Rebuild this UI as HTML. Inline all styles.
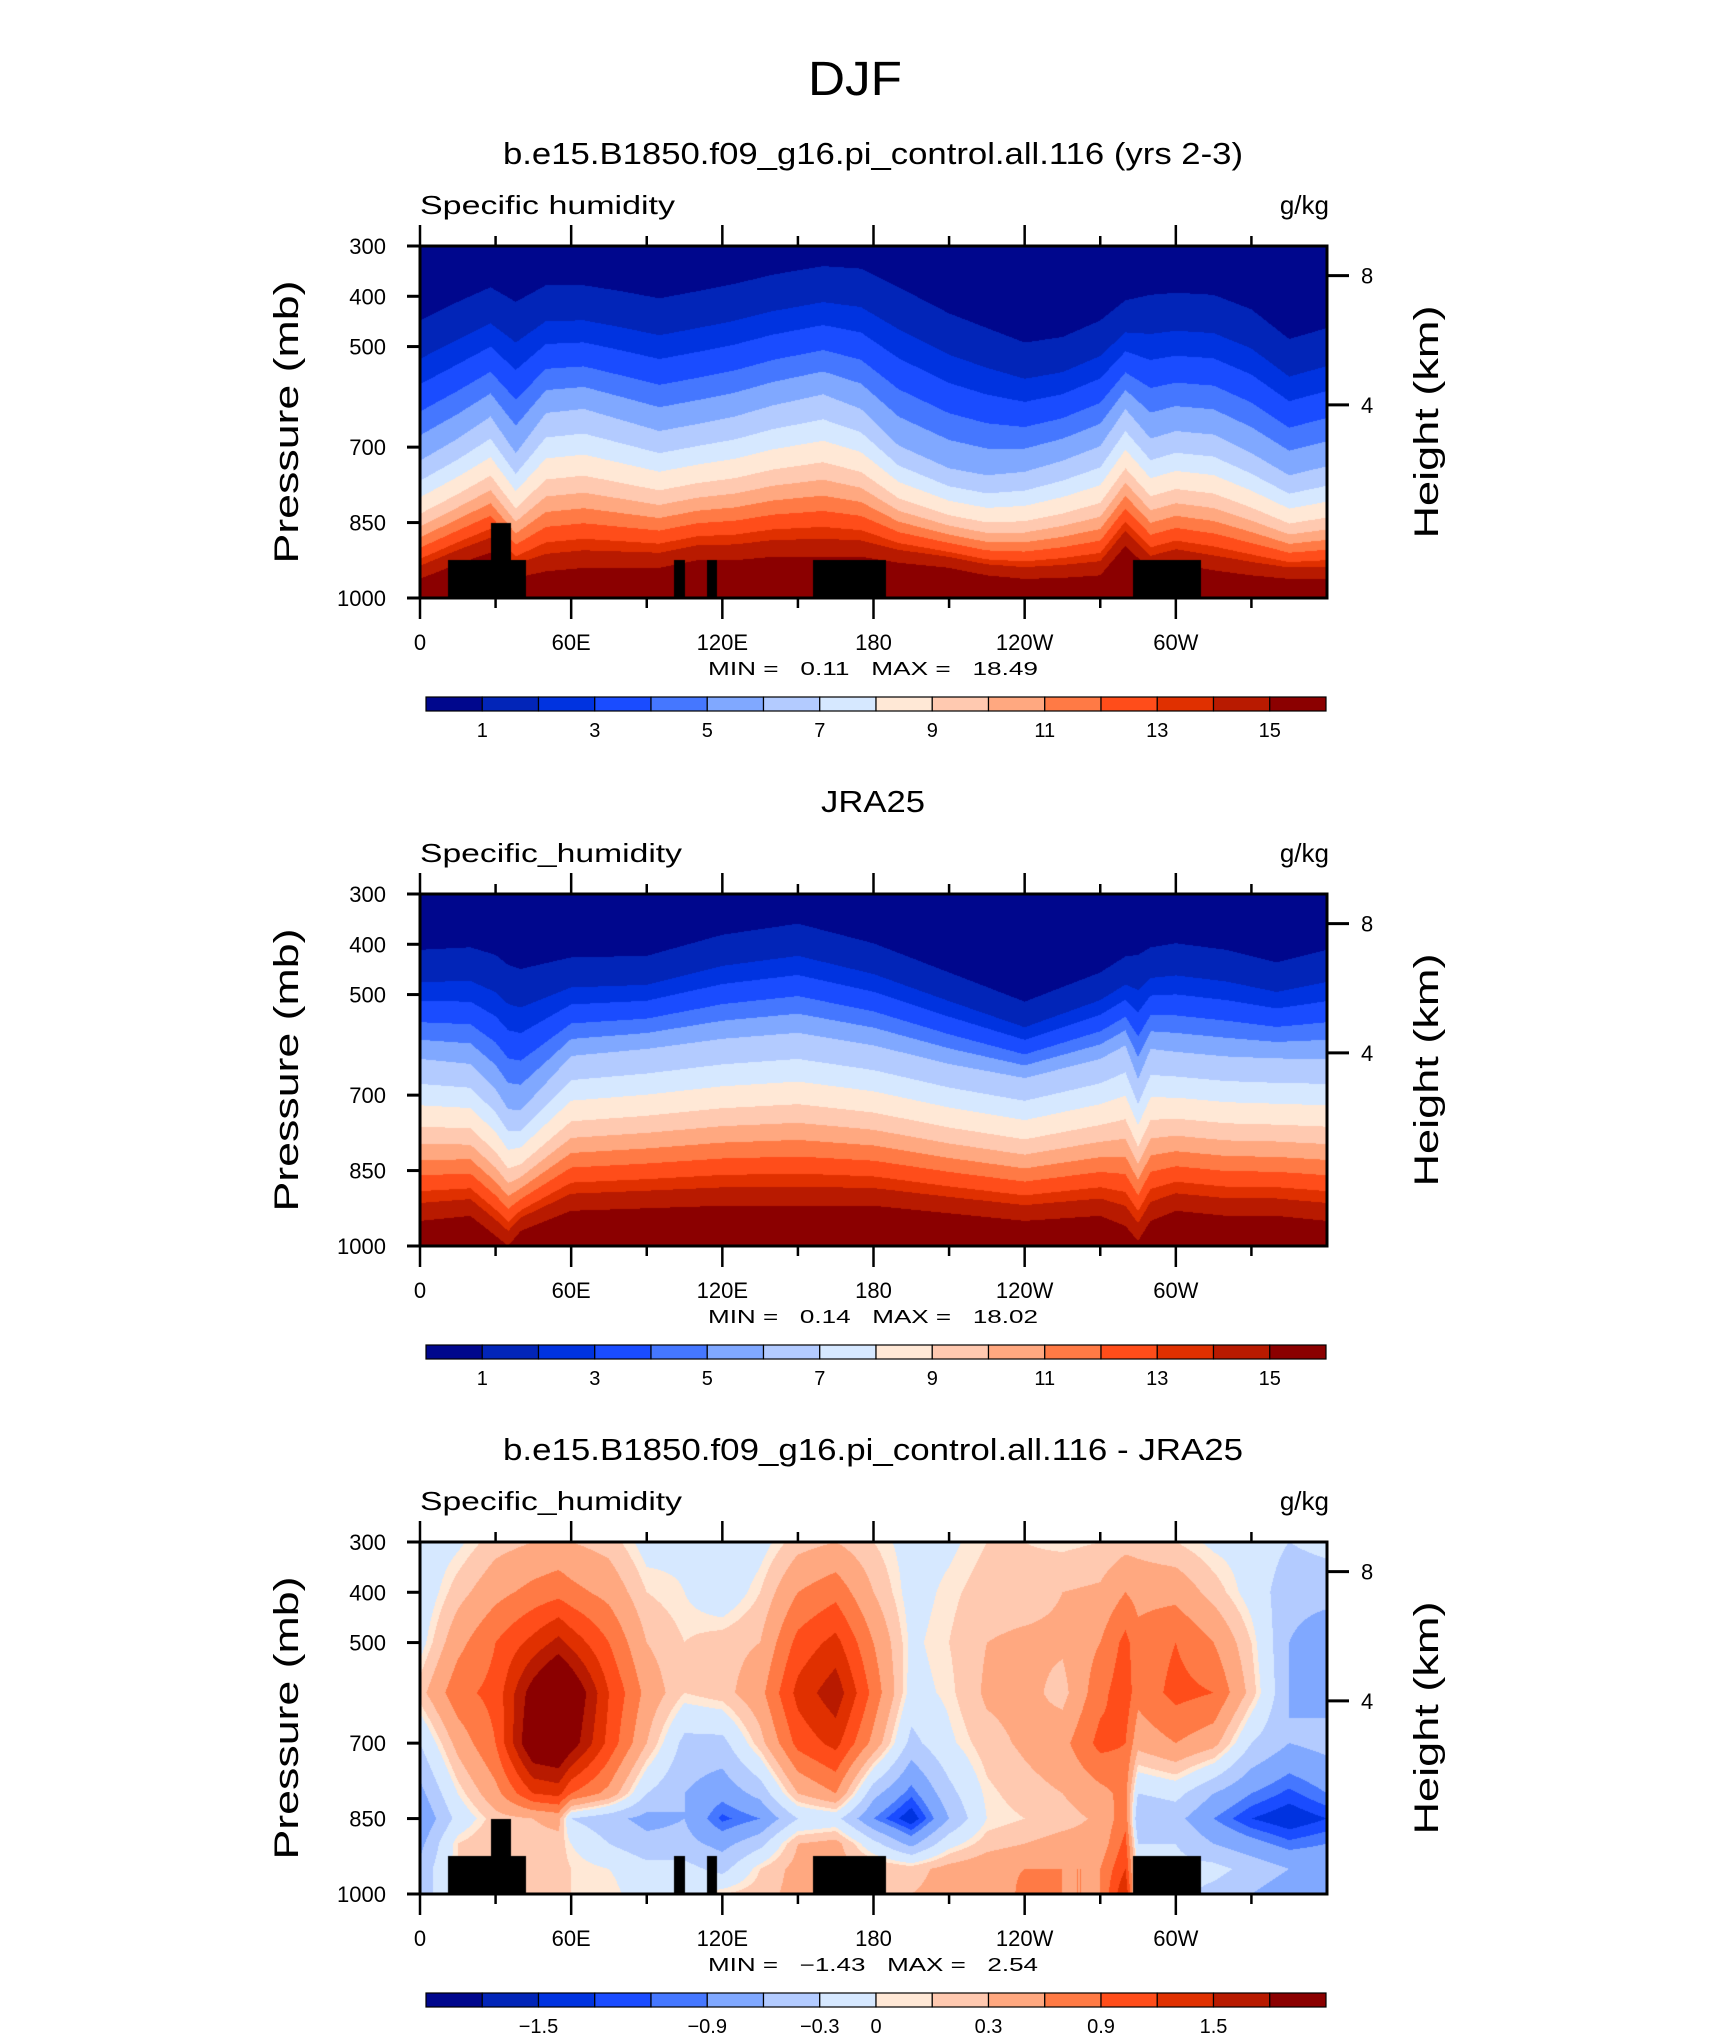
<!DOCTYPE html>
<html><head><meta charset="utf-8">
<style>
html,body{margin:0;padding:0;background:#fff;}
#root{position:relative;width:1710px;height:2038px;overflow:hidden;background:#fff;}
canvas{position:absolute;}
svg{position:absolute;left:0;top:0;}
text{font-family:"Liberation Sans",sans-serif;fill:#000;}
</style></head>
<body>
<div id="root">
<canvas id="c1" width="907" height="352" style="left:420px;top:246px"></canvas>
<canvas id="c2" width="907" height="352" style="left:420px;top:894px"></canvas>
<canvas id="c3" width="907" height="352" style="left:420px;top:1542px"></canvas>
<svg id="ov" width="1710" height="2038">
<text x="855" y="95" font-size="48" text-anchor="middle" textLength="94" lengthAdjust="spacingAndGlyphs">DJF</text>
</svg>
</div>
<script>
// ---------- data ----------
const colors = ["#00078d","#0225b8","#0033e0","#1a4cff","#4577ff","#80a8ff","#b3cbff","#d6e8ff","#ffe8d6","#ffc9b0","#ffa880","#ff7a45","#ff4d1a","#e03000","#b81a00","#8b0000"];
const qLevels = [1,2,3,4,5,6,7,8,9,10,11,12,13,14,15];
const qLabels = ["1","3","5","7","9","11","13","15"];
const dLevels = [-1.8,-1.5,-1.2,-1.05,-0.9,-0.6,-0.3,0,0.1,0.3,0.6,0.9,1.2,1.5,1.8];
const dLabels = ["\u22121.5","\u22120.9","\u22120.3","0","0.3","0.9","1.5"];
const presTicks = [300,400,500,700,850,1000];
const heightTicks = [8,4];
const heightTickPres = [359,616];
const lonTicks = [0,60,120,180,240,300];
const lonTickLabels = ["0","60E","120E","180","120W","60W"];
// base pressure (mb) of each q contour level (1..15) at reference column
const baseBoundary = [386,463,514,569,617,668,712,749,786,815,841,866,892,910,940];
// model shifts (mb) by longitude
const m1Lons = [0,15,28,38,50,65,80,95,110,125,140,160,175,190,210,225,240,255,270,280,290,300,315,330,345,360];
const m1Top  = [62,25,-4,25,-8,-8,4,18,4,-11,-29,-46,-41,-4,48,77,106,95,62,22,11,7,11,40,99,77];
const m1Mid  = [59,15,-29,44,-36,-44,-22,0,-14,-29,-51,-73,-44,29,74,88,81,59,30,-44,15,0,7,44,88,70];
const m1Bot  = [22,-8,-30,20,7,0,0,0,-15,-15,-22,-22,-22,-10,0,15,22,20,15,-44,5,-8,5,15,22,22];
// JRA25 shifts
const m2Lons = [0,20,30,35,40,60,90,120,150,180,210,240,270,280,285,290,300,320,340,360];
const m2Top  = [25,20,35,55,63,40,37,-5,-27,12,70,128,70,38,35,20,12,25,50,25];
const m2Mid  = [-40,-30,20,60,62,-46,-60,-80,-92,-67,-30,-2,-40,-67,0,-60,-54,-45,-41,-40];
const m2Bot  = [10,0,40,60,30,-10,-15,-20,-20,-20,-5,10,0,20,50,10,-10,0,0,10];
// difference field grid
const dPres = [300,400,500,600,700,800,850,900,950,1000];
const dLons = [0,15,30,45,55,60,75,90,105,120,135,150,165,180,195,210,225,240,255,270,280,285,300,315,330,345,360];
const dVals = [
 [-0.2,-0.2,-0.1,0.2,-0.3,-0.7,-0.9,-0.7,-0.5,-0.5],
 [-0.05,0.2,0.5,0.8,0.4,0.0,-0.2,0.1,0.1,0.1],
 [0.2,0.5,0.9,1.0,0.9,0.5,0.2,0.3,0.3,0.3],
 [0.3,0.7,1.3,2.0,2.2,1.2,0.3,0.2,0.2,0.2],
 [0.35,0.8,1.6,2.5,2.3,1.3,0.4,0.2,0.2,0.2],
 [0.3,0.7,1.4,2.2,2.0,0.9,-0.3,0.0,0.1,0.1],
 [0.2,0.5,0.9,1.2,1.1,0.5,-0.5,-0.3,0.0,0.1],
 [-0.1,0.1,0.3,0.5,0.3,-0.3,-0.7,-0.5,-0.2,-0.2],
 [-0.05,0.0,0.1,0.1,-0.4,-0.6,-0.6,-0.5,-0.2,-0.1],
 [-0.3,-0.2,0.2,0.2,-0.4,-0.8,-1.1,-0.7,-0.4,0.1],
 [-0.1,0.1,0.3,0.5,0.2,-0.5,-0.9,-0.4,0.1,0.2],
 [0.2,0.6,1.0,1.3,1.0,0.3,-0.3,0.3,0.4,0.4],
 [0.3,0.8,1.3,1.7,1.3,0.6,-0.2,0.4,0.4,0.4],
 [0.1,0.3,0.6,0.8,0.5,-0.5,-0.9,-0.2,0.3,0.3],
 [-0.1,-0.1,-0.05,-0.1,-0.4,-1.0,-1.35,-0.7,0.2,0.3],
 [-0.05,0.05,0.1,0.05,-0.05,-0.4,-0.6,-0.1,0.4,0.4],
 [0.1,0.2,0.3,0.35,0.2,0.05,0.0,0.2,0.5,0.3],
 [0.1,0.2,0.35,0.4,0.35,0.2,0.1,0.3,0.6,0.7],
 [0.05,0.3,0.35,0.2,0.5,0.3,0.2,0.4,0.6,0.6],
 [0.1,0.35,0.6,0.8,1.0,0.5,0.35,0.4,0.6,0.6],
 [0.2,0.6,1.0,1.1,0.9,0.7,0.8,1.0,1.2,1.5],
 [0.2,0.5,0.7,0.7,0.4,-0.3,-0.6,-0.3,-0.1,-0.1],
 [0.1,0.5,0.9,1.0,0.6,-0.2,-0.5,-0.3,-0.2,-0.2],
 [-0.05,0.2,0.6,0.9,0.4,-0.6,-0.9,-0.6,-0.2,-0.4],
 [-0.1,-0.1,0.1,0.2,-0.3,-0.9,-1.2,-0.8,-0.4,-0.6],
 [-0.3,-0.5,-0.6,-0.6,-0.6,-1.1,-1.35,-1.0,-0.6,-0.8],
 [-0.2,-0.5,-0.8,-0.7,-0.5,-0.9,-1.2,-0.9,-0.6,-0.7]
];
// topography blocks [lonStart, lonEnd, topPressure]
const topoLon0 = [11,28,101,114,156,283];
const topoLon1 = [42,36,105,118,185,310];
const topoTop  = [925,851,925,925,925,925];

// ---------- geometry ----------
const L=420, W=907, H=352;
const panelTops=[246,894,1542];
function xOf(lon){return L+lon/360*W;}
function yOf(p,T){return T+(p-300)/700*H;}
function lerpArr(xs,ys,x){
  if(x<=xs[0])return ys[0];
  for(let i=1;i<xs.length;i++){ if(x<=xs[i]){const t=(x-xs[i-1])/(xs[i]-xs[i-1]);return ys[i-1]+t*(ys[i]-ys[i-1]);} }
  return ys[ys.length-1];
}
function hexRgb(h){return [parseInt(h.substr(1,2),16),parseInt(h.substr(3,2),16),parseInt(h.substr(5,2),16)];}
const rgb=colors.map(hexRgb);
function inTopo(lon,p){for(let i=0;i<topoLon0.length;i++){if(lon>=topoLon0[i]&&lon<=topoLon1[i]&&p>=topoTop[i])return true;}return false;}

function drawQ(id,lons,sT,sM,sB,topo){
  const cv=document.getElementById(id),ctx=cv.getContext('2d');
  const img=ctx.createImageData(W,H);
  for(let i=0;i<W;i++){
    const lon=(i+0.5)/W*360;
    const a=lerpArr(lons,sT,lon),m=lerpArr(lons,sM,lon),b=lerpArr(lons,sB,lon);
    const bnd=baseBoundary.map((v,k)=>{const s=k<6? a+(m-a)*k/5 : m+(b-m)*(k-5)/9; return v+s;});
    for(let j=0;j<H;j++){
      const p=300+(j+0.5)/H*700;
      let c=0; for(let k=0;k<bnd.length;k++) if(p>bnd[k]) c++;
      let col=rgb[c]; if(topo&&inTopo(lon,p)) col=[0,0,0];
      const o=(j*W+i)*4; img.data[o]=col[0];img.data[o+1]=col[1];img.data[o+2]=col[2];img.data[o+3]=255;
    }
  }
  ctx.putImageData(img,0,0);
}
function drawD(id){
  const cv=document.getElementById(id),ctx=cv.getContext('2d');
  const img=ctx.createImageData(W,H);
  for(let i=0;i<W;i++){
    const lon=(i+0.5)/W*360;
    let li=1; while(li<dLons.length-1&&dLons[li]<lon)li++;
    const t=(lon-dLons[li-1])/(dLons[li]-dLons[li-1]);
    const col=dPres.map((_,r)=>dVals[li-1][r]*(1-t)+dVals[li][r]*t);
    for(let j=0;j<H;j++){
      const p=300+(j+0.5)/H*700;
      const v=lerpArr(dPres,col,p);
      let c=0; for(let k=0;k<dLevels.length;k++) if(v>dLevels[k]) c++;
      let cc=rgb[c]; if(inTopo(lon,p)) cc=[0,0,0];
      const o=(j*W+i)*4; img.data[o]=cc[0];img.data[o+1]=cc[1];img.data[o+2]=cc[2];img.data[o+3]=255;
    }
  }
  ctx.putImageData(img,0,0);
}
drawQ('c1',m1Lons,m1Top,m1Mid,m1Bot,true);
drawQ('c2',m2Lons,m2Top,m2Mid,m2Bot,false);
drawD('c3');

// ---------- axes ----------
const NS="http://www.w3.org/2000/svg";
const ov=document.getElementById('ov');
function mk(tag,attrs,parent){const e=document.createElementNS(NS,tag);for(const k in attrs)e.setAttribute(k,attrs[k]);(parent||ov).appendChild(e);return e;}
function txt(s,attrs,parent){const e=mk('text',attrs,parent);e.textContent=s;return e;}
const titles=["b.e15.B1850.f09_g16.pi_control.all.116 (yrs 2-3)","JRA25","b.e15.B1850.f09_g16.pi_control.all.116 - JRA25"];
const titleLens=[740,104,740];
const varNames=["Specific humidity","Specific_humidity","Specific_humidity"];
const minmax=[["0.11","18.49"],["0.14","18.02"],["\u22121.43","2.54"]];
panelTops.forEach((T,pi)=>{
  const g=mk('g',{});
  
  
  const t=txt(titles[pi],{x:873,y:T-82,'font-size':31,'text-anchor':'middle',textLength:titleLens[pi],lengthAdjust:'spacingAndGlyphs'},g);
  
  
  const vn=txt(varNames[pi],{x:420,y:T-32,'font-size':26,textLength:pi==0?255:262,lengthAdjust:'spacingAndGlyphs'},g);
  
  
  const un=txt("g/kg",{x:1329,y:T-32,'font-size':26,'text-anchor':'end'},g);
  
  
  const r=mk('rect',{x:L,y:T,width:W,height:H,fill:'none',stroke:'#000','stroke-width':3},g);
  
  
  for(let lon=0;lon<=330;lon+=30){
    const x=xOf(lon),len=lon%60==0?21:10;
    const a=mk('line',{x1:x,x2:x,y1:T,y2:T-len,stroke:'#000','stroke-width':2.5},g);
    
    
    const b=mk('line',{x1:x,x2:x,y1:T+H,y2:T+H+len,stroke:'#000','stroke-width':2.5},g);
    
    
  }
  lonTicks.forEach((lon,i)=>{
    const e=txt(lonTickLabels[i],{x:xOf(lon),y:T+H+52,'font-size':22,'text-anchor':'middle'},g);
    
    
  });
  presTicks.forEach(p=>{
    const y=yOf(p,T);
    const l=mk('line',{x1:L-13,x2:L,y1:y,y2:y,stroke:'#000','stroke-width':3},g);
    
    
    const e=txt(String(p),{x:386,y:y+8,'font-size':22,'text-anchor':'end'},g);
    
    
  });
  heightTicks.forEach((h,i)=>{
    const y=yOf(heightTickPres[i],T);
    const l=mk('line',{x1:L+W,x2:L+W+22,y1:y,y2:y,stroke:'#000','stroke-width':3},g);
    
    
    const e=txt(String(h),{x:1361,y:y+8,'font-size':22},g);
    
    
  });
  const py=T+H/2;
  const pl=txt("Pressure (mb)",{x:0,y:0,'font-size':34,'text-anchor':'middle',textLength:283,lengthAdjust:'spacingAndGlyphs',transform:`translate(298,${py}) rotate(-90)`},g);
  
  
  const hl=txt("Height (km)",{x:0,y:0,'font-size':34,'text-anchor':'middle',textLength:233,lengthAdjust:'spacingAndGlyphs',transform:`translate(1438,${py}) rotate(-90)`},g);
  
  
  const mm=txt(`MIN =   ${minmax[pi][0]}   MAX =   ${minmax[pi][1]}`,{x:873,y:T+H+77,'font-size':18,'text-anchor':'middle',style:'white-space:pre',textLength:330,lengthAdjust:'spacingAndGlyphs'},g);
  
  
  const cb0=426,cb1=1326,cw=(cb1-cb0)/16,cy=T+451;
  for(let k=0;k<16;k++){
    const b=mk('rect',{x:cb0+k*cw,y:cy,width:cw,height:14,fill:colors[k],stroke:'#000','stroke-width':1.2},g);
    
    
  }
  const labs=pi<2?qLabels:dLabels;
  const idx=pi<2?[1,3,5,7,9,11,13,15]:[2,5,7,8,10,12,14];
  labs.forEach((s,i)=>{
    const e=txt(s,{x:cb0+idx[i]*cw,y:cy+40,'font-size':20,'text-anchor':'middle'},g);
    
    
  });
});
</script>
</body></html>
